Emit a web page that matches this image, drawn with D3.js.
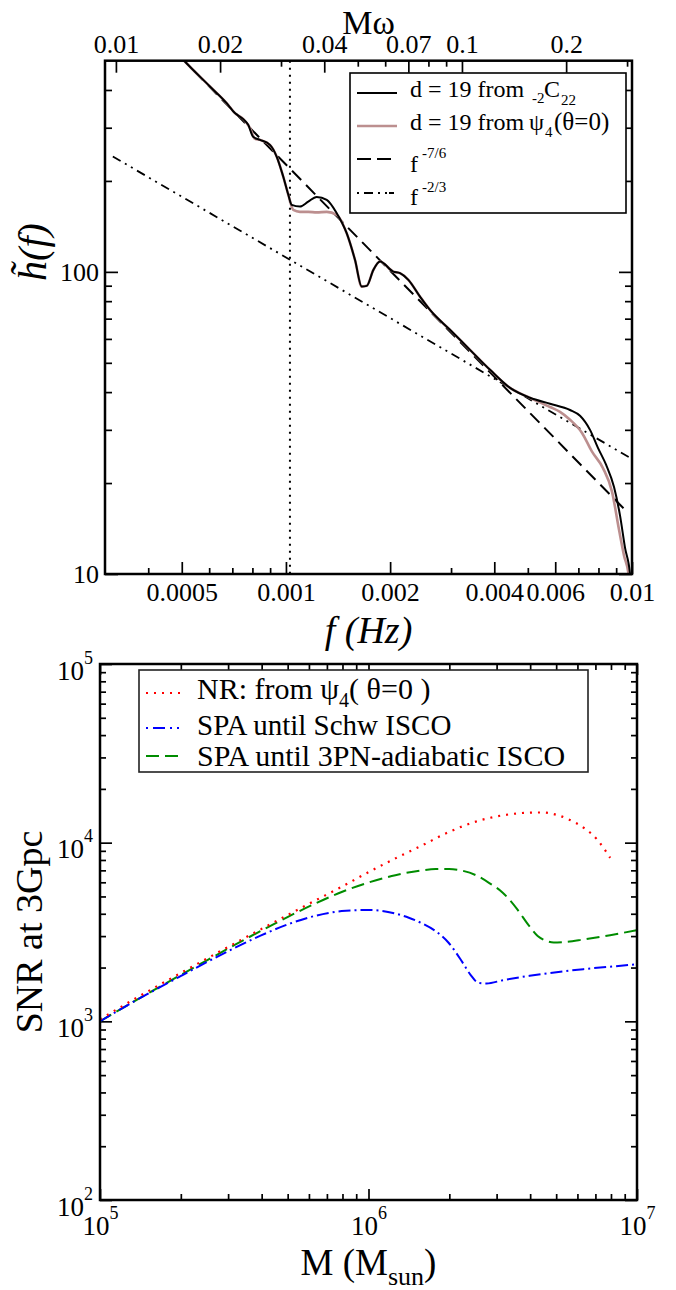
<!DOCTYPE html>
<html><head><meta charset="utf-8">
<script src="https://cdn.jsdelivr.net/npm/d3@7/dist/d3.min.js"></script>
<style>
body{margin:0;background:#fff;}
svg{display:block;}
text{font-family:"Liberation Serif","Times New Roman",serif;fill:#000;}
</style>
</head><body>
<svg id="chart" width="676" height="1290"></svg>
<script>
// ---------------- TOP PANEL DATA ----------------
const fDomain = [0.0003, 0.01];
const mwDomain = [0.0093, 0.31];
const hDomain = [10, 500];

const fMajor = [0.0005, 0.001, 0.002, 0.004, 0.006, 0.01];
const fMajorLabels = ["0.0005", "0.001", "0.002", "0.004", "0.006", "0.01"];
const fMinor = [0.0004, 0.0006, 0.0007, 0.0008, 0.0009, 0.003, 0.005, 0.007, 0.008, 0.009];
const mwMajor = [0.01, 0.02, 0.04, 0.07, 0.1, 0.2];
const mwMajorLabels = ["0.01", "0.02", "0.04", "0.07", "0.1", "0.2"];
const mwMinor = [0.03, 0.05, 0.06, 0.08, 0.09, 0.3];
const hMajor = [10, 100];
const hMajorLabels = ["10", "100"];
const hMinor = [20, 30, 40, 50, 60, 70, 80, 90, 200, 300, 400];

const c22F = [0.000462, 0.000505, 0.000603, 0.000674, 0.000712, 0.000753, 0.000778, 0.000804, 0.000841, 0.000899, 0.000940, 0.000982, 0.001016, 0.001039, 0.001098, 0.001160, 0.001227, 0.001312, 0.001402, 0.001498, 0.001583, 0.001656, 0.001712, 0.001789, 0.001870, 0.002042, 0.002136, 0.002258, 0.002440, 0.002608, 0.002979, 0.003403, 0.003888, 0.004442, 0.005074, 0.005796, 0.006621, 0.007076, 0.007563, 0.007979, 0.008414, 0.008873, 0.009235, 0.009548, 0.009869, 0.00999];
const c22H = [564.6, 503.6, 410.9, 361.9, 335.4, 320.3, 306.8, 279.9, 273.5, 263.3, 240.9, 206.8, 179.9, 166.7, 164.5, 170.9, 177.1, 173.1, 156.4, 134.3, 109.6, 89.4, 89.9, 101.5, 108.2, 100.2, 99.0, 94.1, 82.8, 74.8, 64.3, 55.2, 47.4, 41.3, 38.3, 36.6, 34.9, 33.4, 30.0, 26.1, 23.0, 19.4, 15.6, 12.2, 10.0, 8.2];

const psi4F = [0.000462, 0.000505, 0.000603, 0.000674, 0.000712, 0.000753, 0.000787, 0.000814, 0.000841, 0.000899, 0.000940, 0.000982, 0.001016, 0.001050, 0.001098, 0.001160, 0.001227, 0.001312, 0.001402, 0.001498, 0.001583, 0.001656, 0.001712, 0.001789, 0.001870, 0.002042, 0.002136, 0.002258, 0.002440, 0.002608, 0.002979, 0.003403, 0.003888, 0.004442, 0.005074, 0.005796, 0.006194, 0.006621, 0.007171, 0.007664, 0.008247, 0.008757, 0.009173, 0.009484, 0.009772, 0.009936];
const psi4H = [564.6, 503.6, 410.9, 361.9, 335.4, 320.3, 299.7, 275.6, 273.5, 263.3, 240.9, 206.8, 179.9, 160.4, 158.0, 158.0, 157.4, 158.0, 154.4, 134.3, 109.6, 89.4, 89.9, 101.5, 108.2, 100.2, 99.0, 94.1, 82.8, 74.8, 64.3, 55.2, 47.4, 41.3, 38.3, 35.7, 34.4, 32.4, 29.3, 25.4, 22.4, 18.7, 14.0, 11.5, 10.0, 8.2];

const fit76F = [0.00045, 0.00955];
const fit76H = [575, 16.3];
const fit23F = [0.000316, 0.0099];
const fit23H = [240.9, 24.2];
const markerF = [0.001027];

// ---------------- BOTTOM PANEL DATA ----------------
const mDomain = [1e5, 1e7];
const snrDomain = [1e2, 1e5];
const mMajor = [1e5, 1e6, 1e7];
const mMajorExp = ["5", "6", "7"];
const mMinor = [2e5, 3e5, 4e5, 5e5, 6e5, 7e5, 8e5, 9e5, 2e6, 3e6, 4e6, 5e6, 6e6, 7e6, 8e6, 9e6];
const snrMajor = [1e2, 1e3, 1e4, 1e5];
const snrMajorExp = ["2", "3", "4", "5"];
const snrMinor = [2e2, 3e2, 4e2, 5e2, 6e2, 7e2, 8e2, 9e2, 2e3, 3e3, 4e3, 5e3, 6e3, 7e3, 8e3, 9e3, 2e4, 3e4, 4e4, 5e4, 6e4, 7e4, 8e4, 9e4];

const nrM = [1e5, 1.259e5, 1.585e5, 1.995e5, 2.512e5, 3.162e5, 3.981e5, 5.012e5, 6.310e5, 7.943e5, 1e6, 1.259e6, 1.585e6, 1.995e6, 2.512e6, 3.162e6, 3.981e6, 4.467e6, 5.012e6, 5.623e6, 6.310e6, 7.079e6, 7.943e6];
const nrSNR = [1026, 1259, 1535, 1862, 2254, 2723, 3281, 3945, 4732, 5662, 6839, 8166, 9661, 11482, 13122, 14223, 14723, 14757, 14322, 13397, 12162, 10471, 8222];

const schwM = [1e5, 1.259e5, 1.585e5, 1.995e5, 2.512e5, 3.162e5, 3.981e5, 5.012e5, 6.310e5, 7.943e5, 8.913e5, 1e6, 1.122e6, 1.259e6, 1.413e6, 1.585e6, 1.778e6, 1.995e6, 2.239e6, 2.399e6, 2.570e6, 2.754e6, 3.162e6, 3.981e6, 5.012e6, 6.310e6, 7.943e6, 1e7];
const schwSNR = [1000, 1225, 1486, 1791, 2153, 2570, 3027, 3491, 3890, 4140, 4188, 4198, 4150, 4009, 3802, 3532, 3199, 2735, 2138, 1820, 1641, 1629, 1698, 1799, 1884, 1959, 2023, 2084];

const pn3M = [1e5, 1.259e5, 1.585e5, 1.995e5, 2.512e5, 3.162e5, 3.981e5, 5.012e5, 6.310e5, 7.943e5, 1e6, 1.259e6, 1.585e6, 1.778e6, 1.995e6, 2.239e6, 2.512e6, 2.818e6, 3.162e6, 3.548e6, 3.981e6, 4.266e6, 4.571e6, 4.898e6, 5.248e6, 6.310e6, 7.943e6, 1e7];
const pn3SNR = [1000, 1225, 1493, 1816, 2203, 2667, 3214, 3846, 4550, 5297, 5984, 6577, 6998, 7112, 7129, 6966, 6577, 5943, 5248, 4315, 3396, 3006, 2831, 2761, 2773, 2871, 3034, 3243];

// ---------------- DRAWING ----------------
const svg = d3.select("#chart");
const FF = '"Liberation Serif","Times New Roman",serif';

function ticks(parent, orient, scale, values, len, tx, ty, fmt, pad, fs) {
  const gen = orient === "bottom" ? d3.axisBottom(scale) : orient === "top" ? d3.axisTop(scale)
            : orient === "left" ? d3.axisLeft(scale) : d3.axisRight(scale);
  gen.tickValues(values).tickSizeInner(-len).tickSizeOuter(0).tickPadding(pad || 0)
     .tickFormat(fmt || (() => ""));
  const g = parent.append("g").attr("transform", `translate(${tx},${ty})`).call(gen);
  g.attr("font-family", FF).attr("font-size", fs || 25);
  g.select(".domain").remove();
  g.selectAll(".tick line").attr("stroke", "#000").attr("stroke-width", 1.7);
  g.selectAll(".tick text").attr("fill", "#000");
  if (!fmt) g.selectAll(".tick text").remove();
  return g;
}

// ===== TOP PANEL =====
const T = {l: 105, r: 632, t: 60.7, b: 574};
const xF = d3.scaleLog().domain(fDomain).range([T.l, T.r]);
const xMw = d3.scaleLog().domain(mwDomain).range([T.l, T.r]);
const yH = d3.scaleLog().domain(hDomain).range([T.b, T.t]);

const defs = svg.append("defs");
const gTop = svg.append("g");
defs.append("clipPath").attr("id", "clipTop")
  .append("rect").attr("x", T.l).attr("y", T.t).attr("width", T.r - T.l).attr("height", T.b - T.t);

// ticks
ticks(gTop, "bottom", xF, fMinor, 6, 0, T.b);
const fb = ticks(gTop, "bottom", xF, fMajor, 12, 0, T.b, (d, i) => fMajorLabels[i], 0, 26);
fb.selectAll(".tick text").attr("dy", null).attr("y", 27);
ticks(gTop, "top", xMw, mwMinor, 6, 0, T.t);
ticks(gTop, "top", xMw, mwMajor, 12, 0, T.t, (d, i) => mwMajorLabels[i], 8, 26);
ticks(gTop, "left", yH, hMinor, 7, T.l, 0);
const hl = ticks(gTop, "left", yH, hMajor, 13, T.l, 0, (d, i) => hMajorLabels[i], 6, 26);
hl.selectAll(".tick text").attr("dy", "0.33em");
ticks(gTop, "right", yH, hMinor, 7, T.r, 0);
ticks(gTop, "right", yH, hMajor, 13, T.r, 0);

const lineTop = (F, H) => d3.line().x((d, i) => xF(F[i])).y((d, i) => yH(H[i])).curve(d3.curveMonotoneX)(F);
const plotT = gTop.append("g").attr("clip-path", "url(#clipTop)");

plotT.append("line").attr("x1", xF(markerF[0])).attr("x2", xF(markerF[0]))
  .attr("y1", T.t).attr("y2", T.b).attr("stroke", "#000").attr("stroke-width", 2).attr("stroke-dasharray", "2,5");
plotT.append("path").attr("d", d3.line().x((d, i) => xF(fit23F[i])).y((d, i) => yH(fit23H[i]))(fit23F))
  .attr("fill", "none").attr("stroke", "#000").attr("stroke-width", 1.8).attr("stroke-dasharray", "9,5,2,5,2,5");
plotT.append("path").attr("d", d3.line().x((d, i) => xF(fit76F[i])).y((d, i) => yH(fit76H[i]))(fit76F))
  .attr("fill", "none").attr("stroke", "#000").attr("stroke-width", 2).attr("stroke-dasharray", "13,7");
plotT.append("path").attr("d", lineTop(psi4F, psi4H))
  .attr("fill", "none").attr("stroke", "#bc8f8f").attr("stroke-width", 2.6);
plotT.append("path").attr("d", lineTop(c22F, c22H))
  .attr("fill", "none").attr("stroke", "#000").attr("stroke-width", 2);

gTop.append("rect").attr("x", T.l).attr("y", T.t).attr("width", T.r - T.l).attr("height", T.b - T.t)
  .attr("fill", "none").attr("stroke", "#000").attr("stroke-width", 2.5);

// titles
gTop.append("text").attr("x", (T.l + T.r) / 2).attr("y", 34).attr("text-anchor", "middle")
  .attr("font-size", 34).text("Mω");
gTop.append("text").attr("x", (T.l + T.r) / 2).attr("y", 643).attr("text-anchor", "middle")
  .attr("font-size", 38).attr("font-style", "italic").text("f (Hz)");
gTop.append("text").attr("transform", "translate(46,252) rotate(-90)").attr("text-anchor", "middle")
  .attr("font-size", 40).attr("font-style", "italic").text("h\u0303(f)");

// legend top
const LT = gTop.append("g");
LT.append("rect").attr("x", 350).attr("y", 73).attr("width", 276).attr("height", 140)
  .attr("fill", "#fff").attr("stroke", "#000").attr("stroke-width", 1.6);
const ltRows = [
  {y: 93, stroke: "#000", w: 2, dash: null},
  {y: 126, stroke: "#bc8f8f", w: 2.6, dash: null},
  {y: 159, stroke: "#000", w: 2, dash: "14,6"},
  {y: 193, stroke: "#000", w: 1.8, dash: "2,5,9,5,2,5,2"}
];
ltRows.forEach(r => {
  LT.append("line").attr("x1", 357).attr("x2", 397).attr("y1", r.y).attr("y2", r.y)
    .attr("stroke", r.stroke).attr("stroke-width", r.w).attr("stroke-dasharray", r.dash);
});
const t1 = LT.append("text").attr("x", 410).attr("y", 97).attr("font-size", 24);
t1.append("tspan").text("d = 19 from");
t1.append("tspan").attr("x", 532).attr("y", 103).attr("font-size", 15).text("-2");
t1.append("tspan").attr("x", 544).attr("y", 97).text("C");
t1.append("tspan").attr("x", 561).attr("y", 105).attr("font-size", 15).text("22");
const t2 = LT.append("text").attr("x", 410).attr("y", 130).attr("font-size", 24);
t2.append("tspan").text("d = 19 from");
t2.append("tspan").attr("x", 529).text("ψ");
t2.append("tspan").attr("x", 545).attr("y", 137).attr("font-size", 15).text("4");
t2.append("tspan").attr("x", 554).attr("y", 130).attr("font-size", 25).text("(θ=0)");
const t3 = LT.append("text").attr("x", 410).attr("y", 172).attr("font-size", 24);
t3.append("tspan").text("f");
t3.append("tspan").attr("x", 422).attr("y", 158).attr("font-size", 15).text("-7/6");
const t4 = LT.append("text").attr("x", 410).attr("y", 205).attr("font-size", 24);
t4.append("tspan").text("f");
t4.append("tspan").attr("x", 422).attr("y", 192).attr("font-size", 15).text("-2/3");

// ===== BOTTOM PANEL =====
const B = {l: 100, r: 637, t: 664, b: 1200};
const xM = d3.scaleLog().domain(mDomain).range([B.l, B.r]);
const yS = d3.scaleLog().domain(snrDomain).range([B.b, B.t]);
const gBot = svg.append("g");
defs.append("clipPath").attr("id", "clipBot")
  .append("rect").attr("x", B.l).attr("y", B.t).attr("width", B.r - B.l).attr("height", B.b - B.t);

function pow10(sel, exps, supDy) {
  sel.selectAll(".tick text").each(function(d, i) {
    const t = d3.select(this);
    t.text(null);
    t.append("tspan").text("10");
    t.append("tspan").attr("dy", supDy).attr("font-size", 18).text(exps[i]);
  });
}
ticks(gBot, "bottom", xM, mMinor, 6, 0, B.b);
const mb = ticks(gBot, "bottom", xM, mMajor, 11, 0, B.b, (d, i) => mMajorExp[i], 0, 27);
mb.selectAll(".tick text").attr("dy", null).attr("y", 35);
pow10(mb, mMajorExp, -16);
ticks(gBot, "top", xM, mMinor, 6, 0, B.t);
ticks(gBot, "top", xM, mMajor, 11, 0, B.t);
ticks(gBot, "left", yS, snrMinor, 6, B.l, 0);
const sl = ticks(gBot, "left", yS, snrMajor, 12, B.l, 0, (d, i) => snrMajorExp[i], 7, 27);
sl.selectAll(".tick text").attr("dy", null).attr("y", 15);
pow10(sl, snrMajorExp, -16);
ticks(gBot, "right", yS, snrMinor, 6, B.r, 0);
ticks(gBot, "right", yS, snrMajor, 12, B.r, 0);

const lineBot = (M, S) => d3.line().x((d, i) => xM(M[i])).y((d, i) => yS(S[i])).curve(d3.curveMonotoneX)(M);
const plotB = gBot.append("g").attr("clip-path", "url(#clipBot)");
plotB.append("path").attr("d", lineBot(pn3M, pn3SNR)).attr("fill", "none")
  .attr("stroke", "#008c00").attr("stroke-width", 2).attr("stroke-dasharray", "13,6");
plotB.append("path").attr("d", lineBot(schwM, schwSNR)).attr("fill", "none")
  .attr("stroke", "#0000ff").attr("stroke-width", 2).attr("stroke-dasharray", "12,4,2,4");
plotB.append("path").attr("d", lineBot(nrM, nrSNR)).attr("fill", "none")
  .attr("stroke", "#ff0000").attr("stroke-width", 2.2).attr("stroke-dasharray", "2,6");

gBot.append("rect").attr("x", B.l).attr("y", B.t).attr("width", B.r - B.l).attr("height", B.b - B.t)
  .attr("fill", "none").attr("stroke", "#000").attr("stroke-width", 2.5);

// legend bottom
const LB = gBot.append("g");
LB.append("rect").attr("x", 139).attr("y", 670).attr("width", 449).attr("height", 102)
  .attr("fill", "#fff").attr("stroke", "#222").attr("stroke-width", 1.6);
const lbRows = [
  {y: 693, stroke: "#ff0000", dash: "2,6", w: 2.2},
  {y: 728, stroke: "#0000ff", dash: "2,5,12,5,2,5", w: 2},
  {y: 756, stroke: "#008c00", dash: "13,6", w: 2}
];
lbRows.forEach(r => {
  LB.append("line").attr("x1", 146).attr("x2", 180).attr("y1", r.y).attr("y2", r.y)
    .attr("stroke", r.stroke).attr("stroke-width", r.w).attr("stroke-dasharray", r.dash);
});
const b1 = LB.append("text").attr("x", 197).attr("y", 699).attr("font-size", 30);
b1.append("tspan").text("NR: from ψ");
b1.append("tspan").attr("y", 707).attr("font-size", 20).text("4");
b1.append("tspan").attr("y", 699).text("( θ=0 )");
LB.append("text").attr("x", 197).attr("y", 735).attr("font-size", 29).text("SPA until Schw ISCO");
LB.append("text").attr("x", 197).attr("y", 766).attr("font-size", 30).text("SPA until 3PN-adiabatic ISCO");

// titles bottom
gBot.append("text").attr("transform", "translate(42,932) rotate(-90)").attr("text-anchor", "middle")
  .attr("font-size", 38).text("SNR at 3Gpc");
const mt = gBot.append("text").attr("x", (B.l + B.r) / 2).attr("y", 1275).attr("text-anchor", "middle").attr("font-size", 37);
mt.append("tspan").text("M (M");
mt.append("tspan").attr("dy", 10).attr("font-size", 26).text("sun");
mt.append("tspan").attr("dy", -10).text(")");
</script>
</body></html>
